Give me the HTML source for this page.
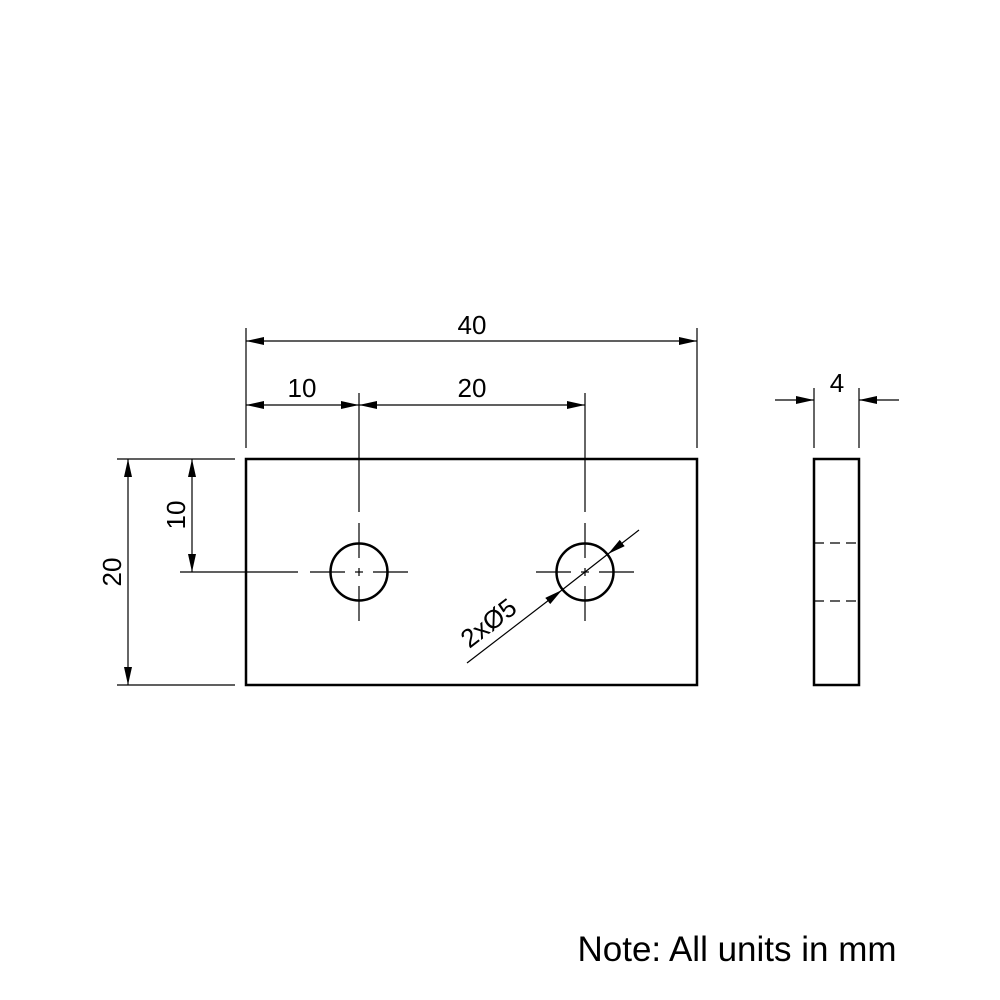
<!DOCTYPE html>
<html><head><style>body{margin:0;background:#fff}svg{display:block}</style></head><body>
<svg width="1000" height="1000" viewBox="0 0 1000 1000" xmlns="http://www.w3.org/2000/svg" font-family="Liberation Sans, sans-serif">
<defs>
<marker id="a" viewBox="0 0 18 8" refX="18" refY="4" markerWidth="18" markerHeight="8" markerUnits="userSpaceOnUse" orient="auto-start-reverse"><path d="M0,0 L18,4 L0,8 Z" fill="#000"/></marker>
</defs>
<g stroke="#000" fill="none">
<rect x="246" y="459" width="451" height="226" stroke-width="2.5"/>
<rect x="814" y="459" width="45" height="226" stroke-width="2.5"/>
<circle cx="359" cy="572" r="28.5" stroke-width="2.5"/>
<circle cx="585" cy="572" r="28.5" stroke-width="2.5"/>
<g stroke-width="1.2">
<line x1="246" y1="328" x2="246" y2="448"/>
<line x1="697" y1="328" x2="697" y2="448"/>
<line x1="359" y1="393" x2="359" y2="512"/>
<line x1="585" y1="393" x2="585" y2="512"/>
<line x1="117" y1="459" x2="235" y2="459"/>
<line x1="117" y1="685" x2="235" y2="685"/>
<line x1="180" y1="572" x2="298" y2="572"/>
<line x1="814" y1="388" x2="814" y2="448"/>
<line x1="859" y1="388" x2="859" y2="448"/>
<line x1="310" y1="572" x2="345" y2="572"/><line x1="355" y1="572" x2="363" y2="572"/><line x1="373" y1="572" x2="408" y2="572"/>
<line x1="359" y1="523" x2="359" y2="558"/><line x1="359" y1="568" x2="359" y2="576"/><line x1="359" y1="586" x2="359" y2="621"/>
<line x1="536" y1="572" x2="571" y2="572"/><line x1="581" y1="572" x2="589" y2="572"/><line x1="599" y1="572" x2="634" y2="572"/>
<line x1="585" y1="523" x2="585" y2="558"/><line x1="585" y1="568" x2="585" y2="576"/><line x1="585" y1="586" x2="585" y2="621"/>
<line x1="814" y1="543" x2="859" y2="543" stroke-dasharray="10,6"/>
<line x1="814" y1="601" x2="859" y2="601" stroke-dasharray="10,6"/>
<line x1="246" y1="341" x2="697" y2="341" marker-start="url(#a)" marker-end="url(#a)"/>
<line x1="246" y1="405" x2="359" y2="405" marker-start="url(#a)" marker-end="url(#a)"/>
<line x1="359" y1="405" x2="585" y2="405" marker-start="url(#a)" marker-end="url(#a)"/>
<line x1="128" y1="459" x2="128" y2="685" marker-start="url(#a)" marker-end="url(#a)"/>
<line x1="192" y1="459" x2="192" y2="572" marker-start="url(#a)" marker-end="url(#a)"/>
<line x1="775" y1="400" x2="814" y2="400" marker-end="url(#a)"/>
<line x1="899" y1="400" x2="859" y2="400" marker-end="url(#a)"/>
<line x1="467" y1="663" x2="562" y2="590" marker-end="url(#a)"/>
<line x1="639" y1="530" x2="608" y2="554" marker-end="url(#a)"/>
<line x1="562" y1="590" x2="608" y2="554"/>
</g>
</g>
<g font-size="26" fill="#000" text-anchor="middle">
<text x="472" y="334">40</text>
<text x="302" y="397">10</text>
<text x="472" y="397">20</text>
<text x="837" y="392">4</text>
<text transform="translate(121,572) rotate(-90)">20</text>
<text transform="translate(185,515) rotate(-90)">10</text>
<text transform="translate(494,630) rotate(-37.7)">2xØ5</text>
</g>
<text x="737" y="961" font-size="35" text-anchor="middle" fill="#000">Note: All units in mm</text>
</svg>
</body></html>
